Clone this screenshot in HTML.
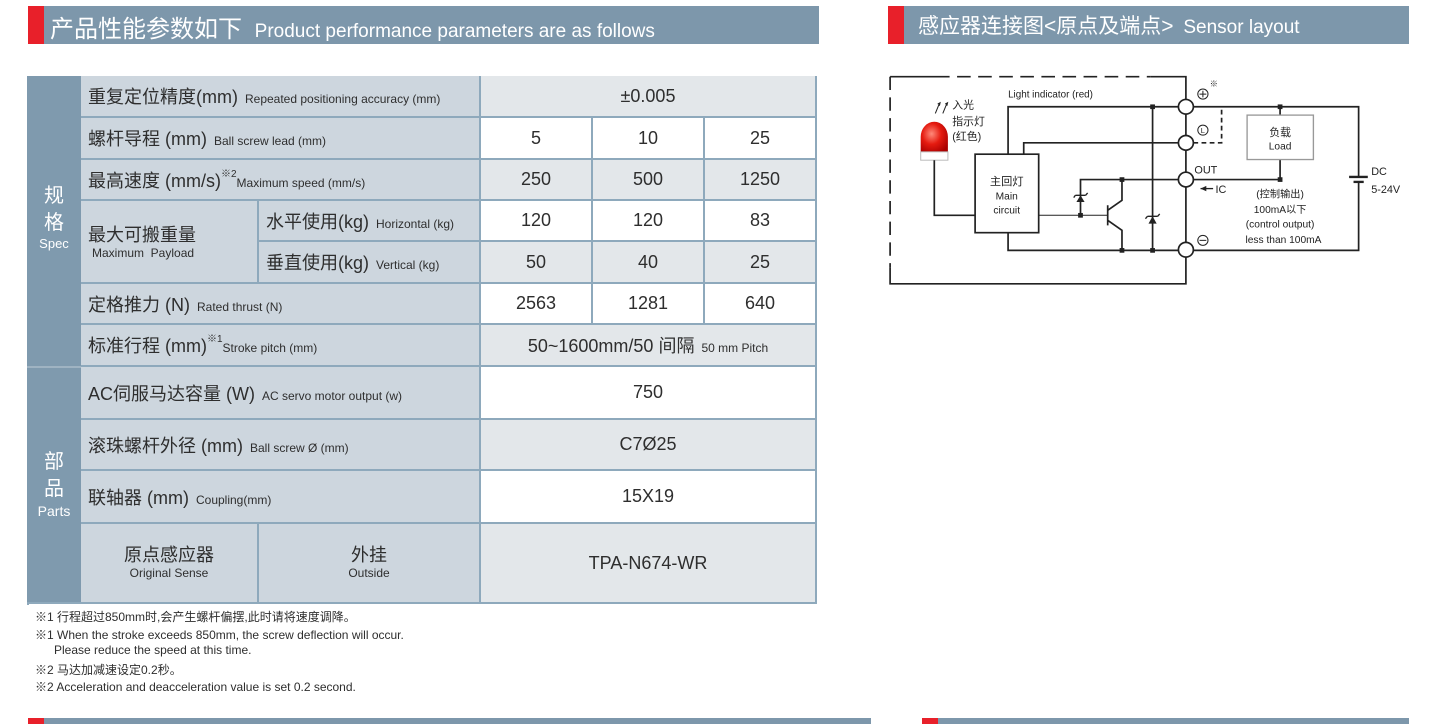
<!DOCTYPE html>
<html><head><meta charset="utf-8"><style>
*{margin:0;padding:0;box-sizing:border-box}
body{width:1440px;height:724px;background:#fff;position:relative;overflow:hidden;font-family:"Liberation Sans","Noto Sans CJK SC",sans-serif;color:#2e2e2e}
.a{position:absolute}
.bar{position:absolute;background:#7d97ab;height:38px}
.red{position:absolute;background:#e8202a;width:16px;height:38px}
.ht{position:absolute;color:#fff;white-space:nowrap;font-family:"Liberation Sans","Noto Sans CJK SC",sans-serif}
.c{position:absolute;display:flex;align-items:center;justify-content:center;font-size:18px;border-right:2px solid #8ea9bc;border-bottom:2px solid #8ea9bc;white-space:nowrap}
.l{position:absolute;display:flex;align-items:center;padding-left:7px;font-size:18px;background:#cdd6de;border-right:2px solid #8ea9bc;border-bottom:2px solid #8ea9bc;white-space:nowrap}
.s{font-size:12px;margin-left:7px}
.g{background:#e3e7ea}.w{background:#fff}
.fn{position:absolute;left:35px;font-size:12px;white-space:nowrap}
sup{font-size:10px;vertical-align:10px;line-height:0}
</style></head><body>
<div class="red" style="left:28px;top:6px"></div><div class="bar" style="left:44px;top:6px;width:775px"></div>
<div class="ht" style="left:50px;top:9px;font-size:24px">产品性能参数如下 <span style="font-size:19px;margin-left:6px">Product performance parameters are as follows</span></div>
<div class="red" style="left:888px;top:6px"></div><div class="bar" style="left:904px;top:6px;width:505px"></div>
<div class="ht" style="left:918px;top:10px;font-size:21px">感应器连接图&lt;原点及端点&gt; <span style="font-size:19px;margin-left:4px">Sensor layout</span></div>

<div class="a" style="left:27px;top:76px;width:790px;height:529px;border:2px solid #8ea9bc;border-right:none;border-bottom:none"></div>
<div class="a" style="left:27px;top:76px;width:54px;height:528px;background:#7f9aae;border-bottom:2px solid #8ea9bc"></div>
<div class="a" style="left:27px;top:366px;width:54px;height:2px;background:#9fb3c2"></div>
<div class="a" style="left:27px;top:183px;width:54px;text-align:center;color:#fff;font-size:20px;line-height:27px">规<br>格<div style="font-size:13px;line-height:14px">Spec</div></div>
<div class="a" style="left:27px;top:449px;width:54px;text-align:center;color:#fff;font-size:20px;line-height:27px">部<br>品<div style="font-size:14px;line-height:16px">Parts</div></div>

<div class="l" style="left:81px;top:76px;width:400px;height:42px"><div>重复定位精度(mm)<span class="s">Repeated positioning accuracy (mm)</span></div></div>
<div class="c g" style="left:481px;top:76px;width:336px;height:42px">±0.005</div>
<div class="l" style="left:81px;top:118px;width:400px;height:42px"><div>螺杆导程 (mm)<span class="s">Ball screw lead (mm)</span></div></div>
<div class="c w" style="left:481px;top:118px;width:112px;height:42px">5</div><div class="c w" style="left:593px;top:118px;width:112px;height:42px">10</div><div class="c w" style="left:705px;top:118px;width:112px;height:42px">25</div>
<div class="l" style="left:81px;top:160px;width:400px;height:41px"><div>最高速度 (mm/s)<sup>※2</sup><span class="s" style="margin-left:0">Maximum speed (mm/s)</span></div></div>
<div class="c g" style="left:481px;top:160px;width:112px;height:41px">250</div><div class="c g" style="left:593px;top:160px;width:112px;height:41px">500</div><div class="c g" style="left:705px;top:160px;width:112px;height:41px">1250</div>
<div class="l" style="left:81px;top:201px;width:178px;height:83px;display:block;padding-top:20px">最大可搬重量<div style="font-size:12px;line-height:12px;margin-left:4px">Maximum&nbsp; Payload</div></div>
<div class="l" style="left:259px;top:201px;width:222px;height:41px"><div>水平使用(kg)<span class="s">Horizontal (kg)</span></div></div>
<div class="l" style="left:259px;top:242px;width:222px;height:42px"><div>垂直使用(kg)<span class="s">Vertical (kg)</span></div></div>
<div class="c w" style="left:481px;top:201px;width:112px;height:41px">120</div><div class="c w" style="left:593px;top:201px;width:112px;height:41px">120</div><div class="c w" style="left:705px;top:201px;width:112px;height:41px">83</div>
<div class="c g" style="left:481px;top:242px;width:112px;height:42px">50</div><div class="c g" style="left:593px;top:242px;width:112px;height:42px">40</div><div class="c g" style="left:705px;top:242px;width:112px;height:42px">25</div>
<div class="l" style="left:81px;top:284px;width:400px;height:41px"><div>定格推力 (N)<span class="s">Rated thrust (N)</span></div></div>
<div class="c w" style="left:481px;top:284px;width:112px;height:41px">2563</div><div class="c w" style="left:593px;top:284px;width:112px;height:41px">1281</div><div class="c w" style="left:705px;top:284px;width:112px;height:41px">640</div>
<div class="l" style="left:81px;top:325px;width:400px;height:42px"><div>标准行程 (mm)<sup>※1</sup><span class="s" style="margin-left:0">Stroke pitch (mm)</span></div></div>
<div class="c g" style="left:481px;top:325px;width:336px;height:42px"><div>50~1600mm/50 间隔<span class="s">50 mm Pitch</span></div></div>
<div class="l" style="left:81px;top:367px;width:400px;height:53px"><div>AC伺服马达容量 (W)<span class="s">AC servo motor output (w)</span></div></div>
<div class="c w" style="left:481px;top:367px;width:336px;height:53px">750</div>
<div class="l" style="left:81px;top:420px;width:400px;height:51px"><div>滚珠螺杆外径 (mm)<span class="s">Ball screw Ø (mm)</span></div></div>
<div class="c g" style="left:481px;top:420px;width:336px;height:51px">C7Ø25</div>
<div class="l" style="left:81px;top:471px;width:400px;height:53px"><div>联轴器 (mm)<span class="s">Coupling(mm)</span></div></div>
<div class="c w" style="left:481px;top:471px;width:336px;height:53px">15X19</div>
<div class="l" style="left:81px;top:524px;width:178px;height:80px;justify-content:center;flex-direction:column;padding:0;line-height:20px">原点感应器<span style="font-size:12px;line-height:16px">Original Sense</span></div>
<div class="l" style="left:259px;top:524px;width:222px;height:80px;justify-content:center;flex-direction:column;padding:0;line-height:20px">外挂<span style="font-size:12px;line-height:16px">Outside</span></div>
<div class="c g" style="left:481px;top:524px;width:336px;height:80px">TPA-N674-WR</div>

<div class="fn" style="top:608px">※1 行程超过850mm时,会产生螺杆偏摆,此时请将速度调降。</div>
<div class="fn" style="top:626px">※1 When the stroke exceeds 850mm, the screw deflection will occur.</div>
<div class="fn" style="top:643px;left:54px">Please reduce the speed at this time.</div>
<div class="fn" style="top:661px">※2 马达加减速设定0.2秒。</div>
<div class="fn" style="top:678px">※2 Acceleration and deacceleration value is set 0.2 second.</div>

<div class="red" style="left:28px;top:718px;height:6px"></div><div class="bar" style="left:44px;top:718px;width:827px;height:6px"></div>
<div class="red" style="left:922px;top:718px;height:6px"></div><div class="bar" style="left:938px;top:718px;width:471px;height:6px"></div>

<svg class="a" style="left:0;top:0" width="1440" height="724">
<g transform="translate(885,60) scale(0.34,0.334)" stroke="#222" stroke-width="5" fill="none" font-family="Liberation Sans,Noto Sans CJK SC,sans-serif">
<path d="M15 50 H150"/><path d="M150 50 H780" stroke-dasharray="40 22"/><path d="M780 50 H885 V670 H15 V620"/><path d="M15 50 V620" stroke-dasharray="40 22"/>
<defs><radialGradient id="rg" cx="0.4" cy="0.4" r="0.7"><stop offset="0" stop-color="#ff8a7a"/><stop offset="0.5" stop-color="#e51b10"/><stop offset="1" stop-color="#a00"/></radialGradient></defs>
<path d="M105 275 V230 A40 45 0 0 1 185 230 V275 Z" fill="url(#rg)" stroke="none"/>
<rect x="105" y="275" width="80" height="25" fill="#fff" stroke="#bbb" stroke-width="3"/>
<path d="M145 300 V465 H265"/>
<path d="M148 160 L160 130 M170 160 L182 130" stroke-width="3"/>
<path d="M155 132 L162 128 L160 137 M177 132 L184 128 L182 137" stroke-width="3"/>
<rect x="265" y="282" width="187" height="235" fill="#fff"/>
<path d="M362 282 V140 H863 M408 282 V248 H863 M362 517 V570 H863"/>
<path d="M787 140 V570"/>
<path d="M452 465 H655" stroke-width="3"/>
<path d="M575 465 V358 H863"/>
<path d="M655 435 V495 M655 450 L697 420 V358 M655 480 L697 510 V570" stroke-width="5"/>
<path d="M907 140 H1393 V350 M1393 365 V570 H907"/>
<path d="M1365 350 H1420" stroke-width="7"/><path d="M1378 365 H1408" stroke-width="7"/>
<path d="M907 248 H990 V140" stroke-dasharray="14 10"/>
<path d="M1162 140 V165 M1162 298 V358 H907"/>
<rect x="1065" y="165" width="195" height="133" fill="#fff" stroke="#999" stroke-width="4"/>
<g fill="#222" stroke="none">
<path d="M563 425 L587 425 L575 405 Z"/><path d="M775 490 L799 490 L787 468 Z"/>
<rect x="780" y="133" width="14" height="14"/><rect x="780" y="563" width="14" height="14"/><rect x="690" y="351" width="14" height="14"/><rect x="690" y="563" width="14" height="14"/><rect x="568" y="458" width="14" height="14"/><rect x="1155" y="133" width="14" height="14"/><rect x="1155" y="351" width="14" height="14"/>
<path d="M945 377 L928 385 L945 393 Z"/>
</g>
<path d="M560 405 H590 M555 412 L560 405 M590 405 L596 398" stroke-width="4"/>
<path d="M772 468 H802 M766 475 L772 468 M802 468 L808 461" stroke-width="4"/>
<path d="M928 385 H965" stroke-width="4"/>
<g fill="#fff"><circle cx="885" cy="140" r="22"/><circle cx="885" cy="248" r="22"/><circle cx="885" cy="358" r="22"/><circle cx="885" cy="568" r="22"/></g>
<g fill="#222" stroke="none" font-size="30">
<text x="362" y="113" font-size="29">Light indicator (red)</text>
<text x="198" y="145" font-size="32">入光</text><text x="198" y="195" font-size="32">指示灯</text><text x="198" y="240" font-size="32">(红色)</text>
<text x="358" y="375" text-anchor="middle" font-size="33">主回灯</text><text x="358" y="418" text-anchor="middle">Main</text><text x="358" y="460" text-anchor="middle">circuit</text>
<text x="1162" y="228" text-anchor="middle" font-size="32">负载</text><text x="1162" y="268" text-anchor="middle">Load</text>
<text x="910" y="340" font-size="32">OUT</text><text x="972" y="398" font-size="32">IC</text>
<text x="1162" y="412" text-anchor="middle">(控制输出)</text><text x="1162" y="458" text-anchor="middle">100mA以下</text><text x="1162" y="502" text-anchor="middle">(control output)</text><text x="1172" y="548" text-anchor="middle">less than 100mA</text>
<text x="1430" y="345" font-size="32">DC</text><text x="1430" y="398" font-size="32">5-24V</text>
<text x="955" y="80" font-size="24">※</text>
</g>
<g stroke-width="3"><circle cx="935" cy="102" r="15"/><path d="M925 102 H945 M935 92 V112"/><circle cx="935" cy="210" r="15"/><circle cx="935" cy="540" r="15"/><path d="M925 540 H945"/></g>
<text x="935" y="219" text-anchor="middle" font-size="22" fill="#222" stroke="none">L</text>
</g></svg>
</body></html>
